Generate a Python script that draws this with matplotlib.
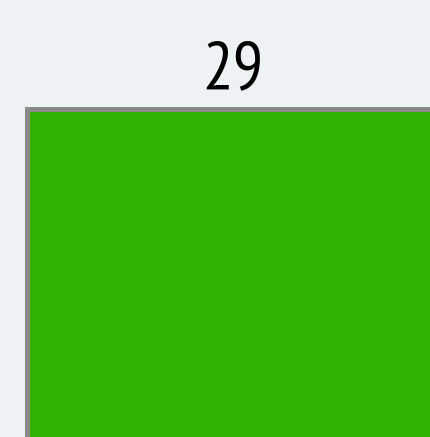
import matplotlib
matplotlib.use("Agg")
import matplotlib.pyplot as plt

categories = ["A"]
values = [29]
labels = ["29"]

W, H, DPI = 430, 437, 100
fig = plt.figure(figsize=(W / DPI, H / DPI), dpi=DPI)
fig.patch.set_facecolor("#EDF2F4")
ax = fig.add_axes([0, 0, 1, 1])
ax.set_facecolor("none")

xs = list(range(len(categories)))
bars = ax.bar(xs, values, width=1.0, color="#32B304",
              edgecolor="#8A8A8A", linewidth=3.6, align="center")

# pixel mapping: bar spans x 27 -> 439 px, top edge center at 108.5 px from top
scale = 412.0
ax.set_xlim(-0.5 - 27 / scale, -0.5 + (W - 27) / scale)
y0 = 20.0
top_frac = (H - 108.5) / H
ax.set_ylim(y0, y0 + (values[0] - y0) / top_frac)

for x, v, lab in zip(xs, values, labels):
    ax.annotate(lab, xy=(x, v), xytext=(0, 14.8), textcoords="offset points",
                ha="center", va="baseline", fontsize=49,
                family=["PT Sans Narrow", "DejaVu Sans"], color="#000000")

ax.axis("off")
fig.savefig("out.png", dpi=DPI, facecolor=fig.get_facecolor())
